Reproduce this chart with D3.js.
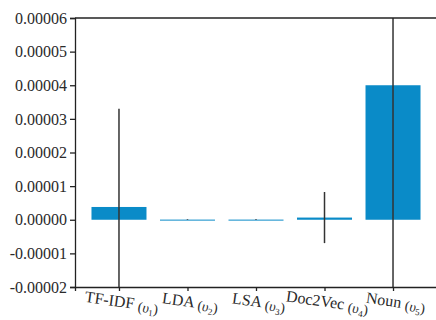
<!DOCTYPE html>
<html>
<head>
<meta charset="utf-8">
<script src="https://cdn.jsdelivr.net/npm/d3@7"></script>
<style>
  body { margin: 0; background: #fff; }
  svg { display: block; }
  text { font-family: "Liberation Serif", "Times New Roman", serif; fill: #2a2a2a; }
</style>
</head>
<body>
<div id="chart"></div>
<script>
// data
const categories = ["TF-IDF", "LDA", "LSA", "Doc2Vec", "Noun"];
const subscripts = ["1", "2", "3", "4", "5"];
const values = [0.0000038, 0.00000004, 0.00000004, 0.00000065, 0.00004];
const errors = [0.0000292, 0.0000001, 0.0000001, 0.0000076, 0.000066];
const yTicks = [-0.00002, -0.00001, 0, 0.00001, 0.00002, 0.00003, 0.00004, 0.00005, 0.00006];
const yTickLabels = ["-0.00002", "-0.00001", "0.00000", "0.00001", "0.00002", "0.00003", "0.00004", "0.00005", "0.00006"];

const width = 436, height = 320;
const margin = { top: 18, right: -1, bottom: 33, left: 75 };
const innerW = width - margin.left - margin.right;
const innerH = height - margin.top - margin.bottom;

const svg = d3.select("#chart").append("svg")
  .attr("width", width)
  .attr("height", height);

const g = svg.append("g")
  .attr("transform", "translate(" + margin.left + "," + margin.top + ")");

const x = d3.scalePoint()
  .domain(categories)
  .range([0, innerW])
  .padding(0.642);

const y = d3.scaleLinear()
  .domain([-0.00002, 0.00006])
  .range([innerH, 0]);

const barW = 55;

g.append("clipPath").attr("id", "plotclip")
  .append("rect").attr("x", 0).attr("y", 0).attr("width", innerW).attr("height", innerH);

// bars
g.selectAll(".bar")
  .data(values)
  .enter()
  .append("rect")
  .attr("class", "bar")
  .attr("x", (d, i) => x(categories[i]) - barW / 2)
  .attr("y", d => y(Math.max(d, 0)))
  .attr("width", barW)
  .attr("height", d => Math.max(1, Math.abs(y(d) - y(0))))
  .attr("fill", "#0a8bc8");

// error bars
g.append("g").attr("clip-path", "url(#plotclip)")
  .selectAll("line")
  .data(values)
  .enter()
  .append("line")
  .attr("x1", (d, i) => x(categories[i]))
  .attr("x2", (d, i) => x(categories[i]))
  .attr("y1", (d, i) => y(d + errors[i]))
  .attr("y2", (d, i) => y(d - errors[i]))
  .attr("stroke", "#333")
  .attr("stroke-width", 1.5);

// y axis
const yAxis = g.append("g")
  .call(d3.axisLeft(y).tickValues(yTicks).tickSize(5).tickPadding(3)
    .tickFormat((d, i) => yTickLabels[i]));
yAxis.selectAll("text").style("font-size", "16px");

// x axis
const xAxis = g.append("g")
  .attr("transform", "translate(0," + innerH + ")")
  .call(d3.axisBottom(x).tickSize(4).tickFormat(""));

g.selectAll(".domain").attr("stroke", "#222").attr("stroke-width", 1.3);
g.selectAll(".tick line").attr("stroke", "#222").attr("stroke-width", 1.3);

// top frame line
g.append("line")
  .attr("x1", 0).attr("x2", innerW)
  .attr("y1", 0).attr("y2", 0)
  .attr("stroke", "#222").attr("stroke-width", 1.3);

// tilted category labels
const labels = g.selectAll(".xlabel")
  .data(categories)
  .enter()
  .append("text")
  .attr("class", "xlabel")
  .attr("text-anchor", "middle")
  .attr("transform", d => "translate(" + (x(d) + 2) + "," + (innerH + 20) + ") rotate(8)")
  .style("font-size", "16px");

labels.append("tspan").text(d => d + " ");
labels.append("tspan").style("font-size", "14px").attr("dy", 2).text("(");
labels.append("tspan").style("font-size", "14px").style("font-style", "italic").text("υ");
labels.append("tspan").style("font-size", "9px").attr("dy", 3).text((d, i) => subscripts[i]);
labels.append("tspan").style("font-size", "14px").attr("dy", -3).text(")");
</script>
</body>
</html>
